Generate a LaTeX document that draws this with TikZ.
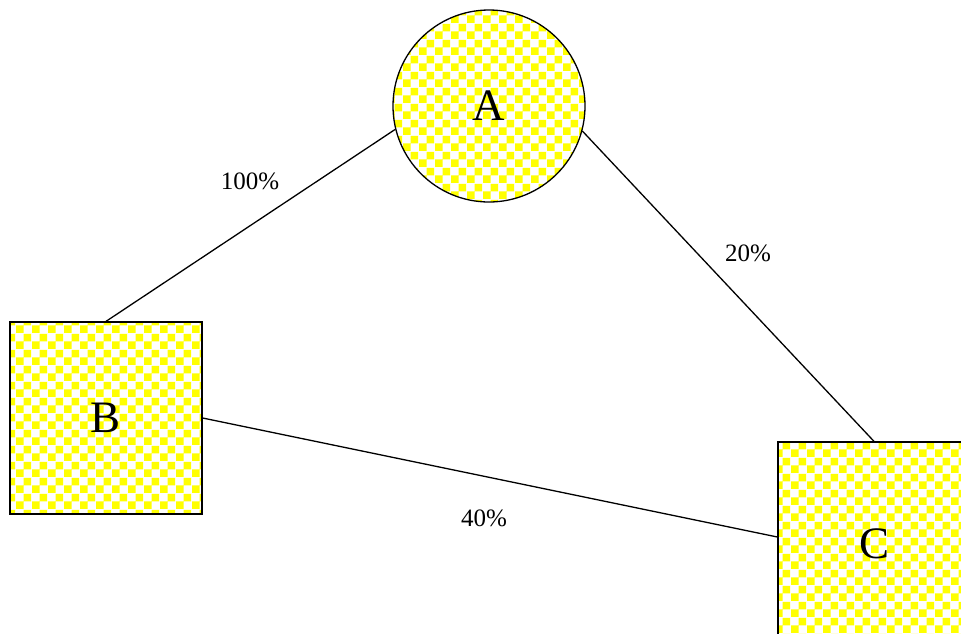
\documentclass[tikz,border=0pt]{standalone}
\usepackage{fontspec}
\setmainfont{Liberation Serif}
\usetikzlibrary{patterns}
\pgfdeclarepatternformonly{checkyel}{\pgfpointorigin}{\pgfpoint{15.5pt}{15.5pt}}{\pgfpoint{15.5pt}{15.5pt}}{%
  \pgfpathrectangle{\pgfpointorigin}{\pgfpoint{7.75pt}{7.75pt}}%
  \pgfpathrectangle{\pgfpoint{7.75pt}{7.75pt}}{\pgfpoint{7.75pt}{7.75pt}}%
  \pgfusepath{fill}}
\tikzset{
  chk/.style={draw=black, line width=1.3pt, preaction={fill=white}, pattern=checkyel, pattern color=yellow,
     inner sep=0pt, font=\fontsize{45}{52}\selectfont},
  sq/.style={chk, rectangle, minimum width=192pt, minimum height=192pt},
  circ/.style={chk, circle, minimum size=192pt},
  lbl/.style={font=\fontsize{25}{29}\selectfont, inner sep=0pt},
  edge/.style={line width=1.3pt}
}
\begin{document}
\begin{tikzpicture}[x=1pt,y=-1pt]
\useasboundingbox (0,0) rectangle (961,633);
\begin{scope}
\clip (0,0) rectangle (961,633);
\node[circ] (A) at (489,106) {A};
\node[sq] (B) at (106,418) {B};
\node[sq, minimum height=204pt] (C) at (874,544) {C};
\draw[edge] (A.194.5) -- (B.north);
\draw[edge] (A.345.5) -- (C.north);
\draw[edge] (B.east) -- ([yshift=7pt]C.west);
\end{scope}
\node[lbl] (l1) at (250,181) {100\%};
\node[lbl] (l2) at (748,253) {20\%};
\node[lbl] (l3) at (484,518) {40\%};
\end{tikzpicture}
\end{document}
